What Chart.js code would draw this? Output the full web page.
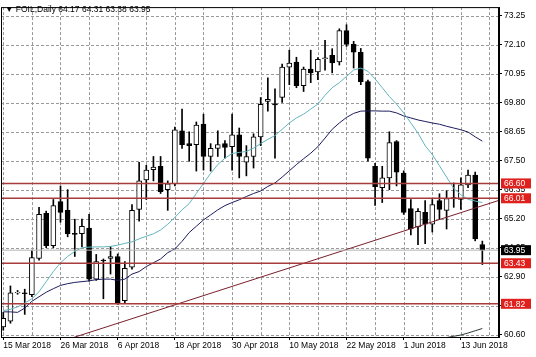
<!DOCTYPE html>
<html>
<head>
<meta charset="utf-8">
<script src="https://cdn.jsdelivr.net/npm/chart.js@4"></script>
<style>
  html, body { margin: 0; padding: 0; background: #fff; }
  #wrap { width: 536px; height: 357px; position: relative; }
</style>
</head>
<body>
<div id="wrap"><canvas id="foil"></canvas></div>
<script>
// FOIL daily candles
const dateLabels = ["15 Mar 2018","26 Mar 2018","6 Apr 2018","18 Apr 2018","30 Apr 2018",
                    "10 May 2018","22 May 2018","1 Jun 2018","13 Jun 2018"];

const opens  = [60.90,61.13,62.25,62.26,62.18,63.62,65.41,64.13,65.88,65.53,64.62,64.60,64.83,62.80,63.56,63.62,63.70,61.94,
                63.27,65.57,66.74,67.15,67.28,66.35,66.58,68.69,68.18,68.14,68.96,67.67,67.99,68.18,68.06,68.53,67.44,67.67,
                68.45,69.86,69.76,70.01,71.22,71.42,70.48,71.14,71.03,71.55,71.69,71.42,72.67,72.12,71.81,70.64,67.28,66.43,
                66.82,68.26,67.01,65.60,64.87,65.45,64.98,65.92,65.53,66.04,65.96,66.54,66.93,64.17];
const highs  = [61.48,62.53,62.35,62.40,63.93,65.65,65.50,65.96,66.50,66.35,65.18,65.18,65.37,63.78,63.60,64.09,63.80,63.50,
                65.76,67.44,67.32,67.67,67.67,66.70,68.84,69.55,68.65,69.04,69.35,68.18,68.69,68.30,69.35,68.80,68.10,68.57,
                70.01,70.79,70.36,71.34,71.89,71.61,71.22,71.89,71.60,72.28,71.95,72.74,72.90,72.24,71.96,70.70,67.40,67.28,
                68.65,68.30,67.10,65.96,65.60,65.92,65.96,66.19,66.31,66.62,66.82,67.13,67.05,64.31];
const lows   = [60.77,61.05,62.20,61.40,62.10,63.55,64.05,64.05,65.06,64.48,63.70,64.09,62.72,62.75,62.02,63.00,61.80,61.85,
                63.20,65.10,65.96,66.70,66.20,65.53,66.50,67.99,67.48,67.09,67.13,67.09,67.67,67.60,67.13,66.82,66.90,67.21,
                68.10,69.47,67.60,69.82,70.52,70.40,70.25,70.60,70.72,71.10,70.99,71.30,72.04,71.18,70.52,67.48,65.73,65.84,
                66.35,66.50,65.37,64.56,64.17,64.21,64.67,65.18,64.79,65.65,65.57,66.43,64.32,63.38];
const closes = [61.24,62.26,62.28,62.22,63.66,65.37,64.13,65.72,65.45,64.60,64.58,64.90,62.80,63.50,63.52,63.70,61.87,63.23,
                65.53,66.70,67.13,67.25,66.27,66.58,68.73,68.14,68.10,68.92,67.67,67.99,68.14,68.03,68.53,67.67,67.67,68.45,
                69.74,69.94,69.72,71.22,71.38,70.48,71.14,70.99,71.53,71.59,71.38,72.67,72.12,71.81,70.64,67.60,66.47,66.82,
                68.22,67.05,65.45,64.79,65.49,64.98,65.76,65.57,66.00,65.98,66.54,66.93,64.40,63.95];

// moving averages as drawn
const fastMa = [61.55,61.60,61.70,61.85,62.02,62.30,62.70,63.10,63.45,63.70,63.90,64.05,64.07,64.08,64.08,64.10,64.15,64.22,
                64.28,64.40,64.50,64.60,64.75,64.98,65.25,65.55,65.80,66.20,66.60,67.00,67.35,67.60,67.79,67.83,67.87,68.00,
                68.18,68.35,68.50,68.75,69.00,69.20,69.35,69.55,69.75,70.10,70.40,70.60,70.85,71.10,71.18,71.05,70.75,70.40,
                70.05,69.75,69.40,69.00,68.60,68.10,67.75,67.30,66.85,66.40,66.15,65.97,65.90,65.84];
const slowMa = [61.50,61.50,61.48,61.65,61.92,62.10,62.28,62.42,62.55,62.62,62.67,62.70,62.73,62.78,62.80,62.80,62.75,62.80,
                63.00,63.10,63.30,63.45,63.60,63.85,64.00,64.30,64.65,64.90,65.15,65.35,65.55,65.72,65.84,65.95,66.08,66.20,
                66.30,66.48,66.62,66.85,67.10,67.35,67.58,67.80,68.06,68.40,68.75,69.00,69.22,69.38,69.47,69.48,69.48,69.47,
                69.47,69.40,69.28,69.20,69.12,69.06,69.00,68.95,68.87,68.80,68.73,68.64,68.45,68.28];
const longMaIdx = [62, 63, 64, 65, 66, 67];
const longMa    = [60.48, 60.53, 60.58, 60.66, 60.75, 60.84];

const levels = [66.60, 66.01, 63.43, 61.82];
const lastPrice = 63.95;
const trendIdx = [5, 70];
const trendVal = [60.04, 65.99];
const yTicks = [60.60, 61.75, 62.90, 64.05, 65.20, 66.35, 67.50, 68.65, 69.80, 70.95, 72.10, 73.25];
const title = "\u25BC FOIL,Daily 64.17 64.31 63.38 63.95";

const FONT = "8.5px 'Liberation Sans', Arial, sans-serif";
const xMin = -0.32, xMax = 69.33;

const bodies = opens.map((o, i) => ({ x: i, y: [Math.min(o, closes[i]), Math.max(o, closes[i])] }));
const wicks = highs.map((h, i) => ({ x: i, y: [lows[i], h] }));
const bodyFill = opens.map((o, i) => closes[i] >= o ? "#ffffff" : "#000000");

const flat = (v) => [{ x: xMin - 1, y: v }, { x: xMax + 1, y: v }];
const lineDs = (data, color, width) => ({
  type: "line", data: data, borderColor: color, borderWidth: width,
  pointRadius: 0, tension: 0, fill: false, spanGaps: false
});

const datasets = [
  ...levels.map(v => lineDs(flat(v), "#a83c3c", 1.5)),
  lineDs(flat(lastPrice), "#b4b4b4", 1),
  lineDs(trendIdx.map((x, i) => ({ x: x, y: trendVal[i] })), "#7a1f2b", 1),
  lineDs(fastMa.map((v, i) => ({ x: i, y: v })), "#62b4bd", 1),
  lineDs(slowMa.map((v, i) => ({ x: i, y: v })), "#1c1c5c", 1),
  lineDs(longMa.map((v, i) => ({ x: longMaIdx[i], y: v })), "#2f3b3b", 1),
  {
    type: "bar", data: bodies, backgroundColor: bodyFill, borderColor: "#000",
    borderWidth: 1, borderSkipped: false, barThickness: 5, grouped: false
  },
  {
    type: "bar", data: wicks, backgroundColor: "#000", borderWidth: 0,
    barThickness: 1, grouped: false
  }
];

// dashed grid, drawn under the data
const dashGrid = {
  id: "dashGrid",
  beforeDatasetsDraw(chart) {
    const { ctx, chartArea: a, scales: { x, y } } = chart;
    ctx.save();
    ctx.strokeStyle = "#9a9a9a";
    ctx.lineWidth = 1;
    ctx.setLineDash([3, 2]);
    ctx.beginPath();
    x.ticks.forEach(t => {
      const px = Math.round(x.getPixelForValue(t.value)) + 0.5;
      ctx.moveTo(px, a.top);
      ctx.lineTo(px, a.bottom);
    });
    y.ticks.forEach(t => {
      const py = Math.round(y.getPixelForValue(t.value)) + 0.5;
      ctx.moveTo(a.left, py);
      ctx.lineTo(a.right, py);
    });
    ctx.stroke();
    ctx.restore();
  }
};

const overlay = {
  id: "overlay",
  afterDraw(chart) {
    const { ctx, chartArea: a, scales: { y } } = chart;
    ctx.save();
    // frame
    ctx.strokeStyle = "#000";
    ctx.lineWidth = 1;
    ctx.strokeRect(a.left + 0.5, a.top + 0.5, a.right - a.left - 1, a.bottom - a.top);
    // level tags on the price axis
    ctx.font = FONT;
    ctx.textBaseline = "middle";
    ctx.textAlign = "left";
    const tag = (v, bg) => {
      const py = y.getPixelForValue(v);
      ctx.fillStyle = bg;
      ctx.fillRect(a.right + 2, py - 5, 30, 10);
      ctx.fillStyle = "#fff";
      ctx.fillText(v.toFixed(2), a.right + 5, py + 0.5);
    };
    levels.forEach(v => tag(v, "#e0201c"));
    tag(lastPrice, "#000");
    // title
    ctx.fillStyle = "#000";
    ctx.fillText(title, 5, 10);
    ctx.restore();
  }
};

new Chart(document.getElementById("foil"), {
  type: "bar",
  data: { datasets: datasets },
  plugins: [dashGrid, overlay],
  options: {
    responsive: true,
    maintainAspectRatio: false,
    animation: false,
    layout: { padding: { left: 1, top: 1, right: 0, bottom: 0 } },
    plugins: { legend: { display: false }, tooltip: { enabled: false } },
    scales: {
      x: {
        type: "linear",
        offset: false,
        min: xMin,
        max: xMax,
        afterBuildTicks: (s) => {
          const t = [];
          for (let i = 0; i <= 68; i += 4) t.push({ value: i });
          s.ticks = t;
        },
        afterFit: (s) => { s.height = 20; },
        grid: {
          offset: false,
          drawOnChartArea: false,
          tickLength: 3,
          tickColor: (c) => (c.tick && c.tick.value % 8 === 0) ? "#000" : "rgba(0,0,0,0)"
        },
        border: { display: true, color: "#000" },
        ticks: {
          autoSkip: false,
          maxRotation: 0,
          align: "start",
          padding: 1,
          color: "#000",
          font: { family: "'Liberation Sans', Arial, sans-serif", size: 8.5 },
          callback: (v) => v % 8 === 0 ? dateLabels[v / 8] : ""
        }
      },
      y: {
        type: "linear",
        position: "right",
        min: 60.502,
        max: 73.601,
        afterBuildTicks: (s) => { s.ticks = yTicks.map(v => ({ value: v })); },
        afterFit: (s) => { s.width = 37; },
        grid: { drawOnChartArea: false, tickLength: 3, tickColor: "#000" },
        border: { display: true, color: "#000" },
        ticks: {
          padding: 2,
          color: "#000",
          font: { family: "'Liberation Sans', Arial, sans-serif", size: 8.5 },
          callback: (v) => Number(v).toFixed(2)
        }
      }
    }
  }
});
</script>
</body>
</html>
